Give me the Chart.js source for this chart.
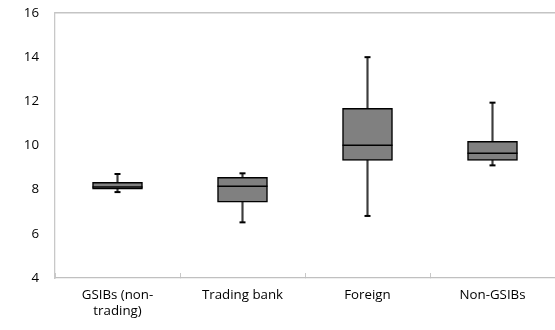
<!DOCTYPE html>
<html>
<head>
<meta charset="utf-8">
<script src="https://cdn.jsdelivr.net/npm/chart.js@4"></script>
<style>
html,body{margin:0;padding:0;background:#fff;}
#wrap{width:555px;height:330px;}
</style>
</head>
<body>
<div id="wrap"><canvas id="c" width="555" height="330"></canvas></div>
<script>
const categories = [["GSIBs (non-", "trading)"], "Trading bank", "Foreign", "Non-GSIBs"];
const whiskerMin = [7.89, 6.52, 6.81, 9.10];
const q1 = [8.02, 7.43, 9.33, 9.33];
const medians = [8.12, 8.16, 10.01, 9.65];
const q3 = [8.33, 8.56, 11.68, 10.19];
const whiskerMax = [8.71, 8.74, 14.0, 11.94];
const yTicks = [4, 6, 8, 10, 12, 14, 16];

const boxes = q1.map((v, i) => [v, q3[i]]);
const whiskers = whiskerMin.map((v, i) => [v, whiskerMax[i]]);

Chart.defaults.font.family = "'Open Sans', 'Noto Sans', sans-serif";
Chart.defaults.font.size = 13.3;
Chart.defaults.color = '#000';

const topBorder = {
  id: 'topBorder',
  afterDraw(chart) {
    const a = chart.chartArea, ctx = chart.ctx;
    ctx.save();
    ctx.fillStyle = '#c4c4c4';
    ctx.fillRect(a.left, Math.round(a.top) - 1, a.right - a.left, 1.5);
    ctx.restore();
  }
};

new Chart(document.getElementById('c'), {
  type: 'bar',
  data: {
    labels: categories,
    datasets: [
      { type: 'line', label: 'median', data: medians, showLine: false, pointStyle: 'line', clip: false,
        pointRadius: 25, pointHoverRadius: 25, pointBorderWidth: 1.5, borderColor: '#000', backgroundColor: '#000', order: 1 },
      { type: 'line', label: 'max', data: whiskerMax, showLine: false, pointStyle: 'line', clip: false,
        pointRadius: 3, pointHoverRadius: 3, pointBorderWidth: 2, borderColor: '#000', backgroundColor: '#000', order: 1 },
      { type: 'line', label: 'min', data: whiskerMin, showLine: false, pointStyle: 'line', clip: false,
        pointRadius: 3, pointHoverRadius: 3, pointBorderWidth: 2, borderColor: '#000', backgroundColor: '#000', order: 1 },
      { type: 'bar', label: 'box', data: boxes, grouped: false, barThickness: 50,
        backgroundColor: '#808080', borderColor: '#000', borderWidth: 1.5, borderSkipped: false, order: 2 },
      { type: 'bar', label: 'whisker', data: whiskers, grouped: false, barThickness: 1.5,
        backgroundColor: '#3c3c3c', borderWidth: 0, order: 3 }
    ]
  },
  options: {
    responsive: false,
    animation: false,
    layout: { autoPadding: false, padding: { top: 13, right: -5, left: 0, bottom: 0 } },
    plugins: { legend: { display: false }, tooltip: { enabled: false } },
    scales: {
      x: {
        position: 'bottom',
        grid: { display: true, drawOnChartArea: false, drawTicks: true, tickLength: -5, color: '#c8c8c8', offset: true },
        border: { display: true, color: '#c0c0c0', width: 1.3 },
        ticks: { padding: 14, color: '#000', maxRotation: 0, autoSkip: false },
        afterFit: s => { s.height = 52; s.paddingLeft = 0; s.paddingRight = 0; }
      },
      y: {
        min: 4, max: 16,
        afterBuildTicks: s => { s.ticks = yTicks.map(v => ({ value: v })); },
        grid: { display: false, drawTicks: false },
        border: { display: true, color: '#c8c8c8', width: 1.3 },
        ticks: { padding: 16, color: '#000' },
        afterFit: s => { s.width = 55; s.paddingTop = 0; s.paddingBottom = 0; }
      }
    }
  },
  plugins: [topBorder]
});
</script>
</body>
</html>
